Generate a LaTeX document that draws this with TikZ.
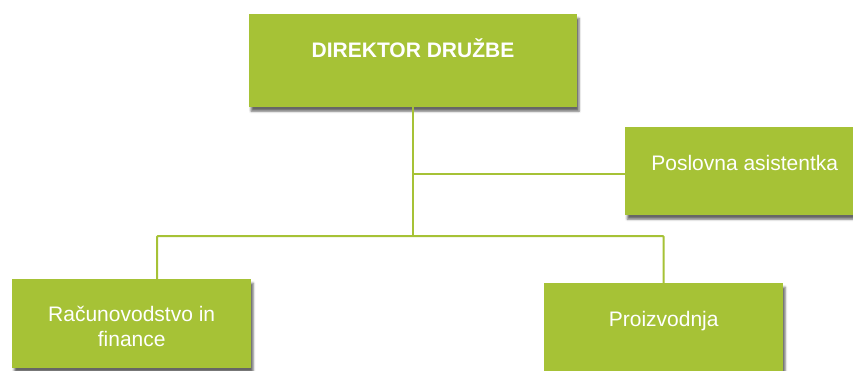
\documentclass[tikz,border=0pt]{standalone}
\usepackage{fontspec}
\setmainfont{Liberation Sans}
\usetikzlibrary{shadows.blur}
\definecolor{orggreen}{HTML}{A6C236}
\tikzset{%
  unitbox/.style = {shape=rectangle, fill=orggreen, text=white, inner sep=0pt,%
                    minimum width=239pt, align=center,%
                    font=\fontsize{21}{24.3}\selectfont,%
                    blur shadow={shadow xshift=2pt, shadow yshift=-4pt, shadow opacity=60}},%
  headbox/.style = {unitbox, minimum width=328pt, font=\bfseries\fontsize{21}{24.3}\selectfont},%
  link/.style    = {draw=orggreen, line width=2pt}%
}
\begin{document}
\begin{tikzpicture}[x=1pt,y=-1pt]
		\useasboundingbox (0,0) rectangle (853,370);
		\node[headbox, anchor=north, text height=43pt, text depth=50pt] (director) at (413,14) {DIREKTOR DRUŽBE};
		\node[unitbox, anchor=north west, text height=43pt, text depth=45pt] (assistant) at (625,127) {Poslovna asistentka};
		\node[unitbox, anchor=north west, text height=67pt, text depth=22pt] (finance) at (12,279) {Računovodstvo in\\finance};
		\node[unitbox, anchor=north west, text height=43pt, text depth=46pt] (production) at (544,283) {Proizvodnja};
		\coordinate (side) at (413,174);
		\coordinate (branch) at (413,236);
		\coordinate (left) at (157,236);
		\draw[link] (director.south) -- (branch);
		\draw[link] (side) -- (side -| assistant.west);
		\draw[link, rounded corners=1pt] (finance.north -| left) -- (left) -- (production.north |- branch) -- (production.north);
\end{tikzpicture}
\end{document}
